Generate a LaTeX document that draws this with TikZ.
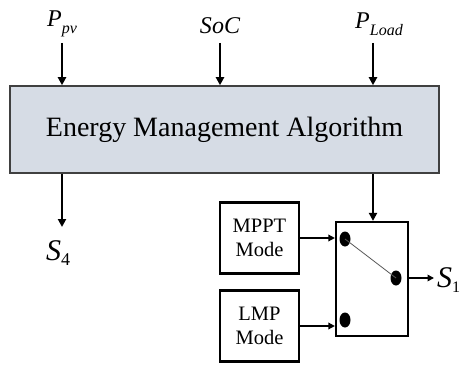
\documentclass[tikz,border=0pt]{standalone}
\usepackage{fontspec}
\setmainfont{Liberation Serif}
\usetikzlibrary{arrows.meta,shapes.geometric}
\definecolor{boxfill}{RGB}{214,220,229}
\begin{document}
\begin{tikzpicture}[x=1pt,y=-1pt,
  bigarr/.style={-{Triangle[length=8pt,width=8pt]}, line width=2.7pt},
  smallarr/.style={-{Triangle[length=6.5pt,width=6.5pt]}, line width=1.8pt},
  modebox/.style={draw=black, line width=2.2pt, minimum width=79pt, minimum height=71pt, inner sep=0pt, align=center, font=\fontsize{20.5}{24}\selectfont},
  dot/.style={ellipse, fill=black, minimum width=11pt, minimum height=15pt, inner sep=0pt},
  lbl/.style={inner sep=0pt, font=\fontsize{24}{24}\selectfont\itshape},
  slbl/.style={inner sep=0pt, font=\fontsize{30}{30}\selectfont\itshape}
]
\useasboundingbox (0,0) rectangle (462,366);
\node[draw=black!75, line width=1.5pt, fill=boxfill, minimum width=429pt, minimum height=87pt, inner sep=0pt,
  font=\fontsize{28}{28}\selectfont] (ema) at (224.5,129.5) {Energy Management Algorithm};
% top labels
\node[lbl, anchor=base] (ppv) at (62,27) {P\raisebox{-7pt}{\fontsize{16}{16}\selectfont pv}};
\node[lbl, anchor=base] (soc) at (220,34) {SoC};
\node[lbl, anchor=base] (pload) at (379,29) {P\raisebox{-7pt}{\fontsize{16}{16}\selectfont Load}};
\coordinate (a1) at (62,43);
\coordinate (a2) at (220,43);
\coordinate (a3) at (373,43);
\draw[bigarr] (a1) -- (a1 |- ema.north);
\draw[bigarr] (a2) -- (a2 |- ema.north);
\draw[bigarr] (a3) -- (a3 |- ema.north);
% S4
\coordinate (s4end) at (62,227);
\node[slbl, anchor=base west] (s4) at (46,260) {S\raisebox{-5pt}{\fontsize{18}{18}\selectfont\upshape 4}};
\draw[bigarr] (s4end |- ema.south) -- (s4end);
% switch
\node[draw=black, line width=2.2pt, minimum width=72pt, minimum height=114pt, inner sep=0pt] (sw) at (372,279) {};
\draw[bigarr] (a3 |- ema.south) -- (a3 |- sw.north);
\node[modebox] (mppt) at (259.5,238) {MPPT\\Mode};
\node[modebox] (lmp) at (259.5,326) {LMP\\Mode};
\node[dot] (d1) at (345,239) {};
\node[dot] (d2) at (396,278) {};
\node[dot] (d3) at (345,320) {};
\draw[gray!70!black, line width=0.8pt] (d1.center) -- (d2.center);
\draw[smallarr] (mppt.east) -- (mppt.east -| sw.west);
\draw[smallarr] (lmp.east) -- (lmp.east -| sw.west);
\coordinate (s1end) at (434,278);
\draw[smallarr] (sw.east |- s1end) -- (s1end);
\node[slbl, anchor=base west] (s1) at (437,287) {S\raisebox{-5pt}{\fontsize{16}{16}\selectfont\upshape 1}};
\end{tikzpicture}
\end{document}
